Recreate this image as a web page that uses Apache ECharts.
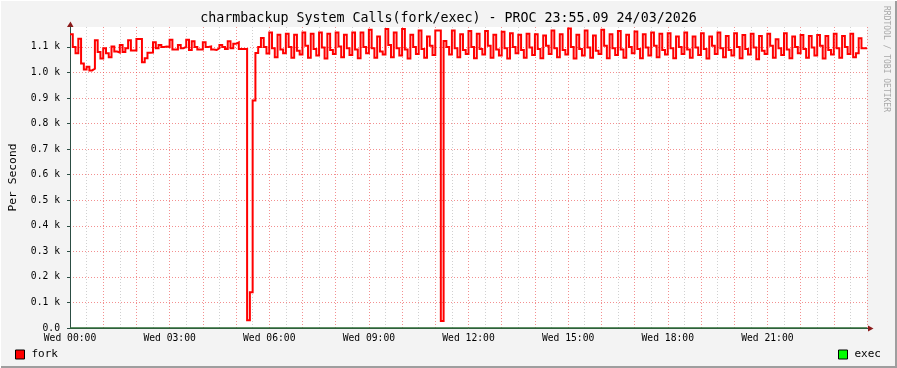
<!DOCTYPE html>
<html><head><meta charset="utf-8">
<script src="https://cdn.jsdelivr.net/npm/echarts@6/dist/echarts.min.js"></script>
<style>html,body{margin:0;padding:0;background:#f3f3f3}#c{width:897px;height:368px}</style>
</head><body><div id="c"></div>
<script>
const stepMinutes = 5;
const xTickLabels = ['Wed 00:00','Wed 03:00','Wed 06:00','Wed 09:00','Wed 12:00','Wed 15:00','Wed 18:00','Wed 21:00'];
const yTickLabels = ['0.0','0.1 k','0.2 k','0.3 k','0.4 k','0.5 k','0.6 k','0.7 k','0.8 k','0.9 k','1.0 k','1.1 k'];
const seriesNames = ['fork','exec'];
const titleText = 'charmbackup System Calls(fork/exec) - PROC 23:55.09 24/03/2026';
const yAxisTitle = 'Per Second';
const watermark = 'RRDTOOL / TOBI OETIKER';

// fork calls per second, one value per 5 minutes, one row per hour
const fork = [
  1150,1100,1075,1132,1035,1012,1022,1008,1015,1126,1080,1055,
  1095,1075,1060,1102,1082,1078,1108,1080,1095,1126,1086,1086,
  1131,1131,1040,1056,1077,1078,1118,1095,1108,1100,1102,1100,
  1128,1090,1090,1108,1095,1100,1128,1088,1122,1100,1090,1090,
  1118,1100,1102,1090,1088,1095,1108,1100,1092,1122,1095,1112,
  1118,1092,1092,1092,30,140,890,1076,1100,1135,1100,1074,
  1156,1095,1060,1148,1090,1075,1152,1100,1058,1148,1085,1070,
  1156,1105,1058,1152,1092,1066,1156,1098,1055,1152,1088,1072,
  1156,1102,1060,1148,1095,1068,1156,1090,1056,1156,1100,1075,
  1167,1095,1058,1141,1082,1070,1170,1108,1060,1156,1095,1066,
  1170,1090,1055,1148,1100,1072,1164,1092,1058,1141,1105,1068,
  1164,1164,27,1123,1100,1070,1164,1095,1060,1150,1088,1072,
  1162,1100,1056,1152,1092,1070,1162,1105,1058,1148,1090,1066,
  1159,1095,1055,1154,1100,1075,1148,1088,1058,1152,1098,1068,
  1150,1092,1056,1145,1105,1072,1164,1095,1060,1150,1088,1070,
  1172,1100,1055,1148,1092,1066,1164,1098,1058,1145,1085,1072,
  1167,1105,1056,1150,1095,1068,1162,1090,1058,1148,1100,1075,
  1160,1092,1056,1150,1098,1066,1156,1105,1060,1152,1088,1070,
  1154,1095,1056,1141,1100,1072,1156,1090,1058,1141,1098,1068,
  1154,1092,1055,1141,1105,1072,1156,1095,1060,1143,1088,1066,
  1154,1100,1056,1147,1092,1070,1152,1098,1052,1143,1085,1072,
  1152,1105,1058,1130,1095,1068,1154,1090,1056,1141,1100,1075,
  1147,1092,1058,1143,1098,1066,1147,1105,1055,1143,1088,1070,
  1152,1095,1058,1143,1100,1072,1152,1060,1075,1134,1095,1095
];
// exec calls per second (flat zero)
const exec = [
  0,0,0,0,0,0,0,0,0,0,0,0, 0,0,0,0,0,0,0,0,0,0,0,0,
  0,0,0,0,0,0,0,0,0,0,0,0, 0,0,0,0,0,0,0,0,0,0,0,0,
  0,0,0,0,0,0,0,0,0,0,0,0, 0,0,0,0,0,0,0,0,0,0,0,0,
  0,0,0,0,0,0,0,0,0,0,0,0, 0,0,0,0,0,0,0,0,0,0,0,0,
  0,0,0,0,0,0,0,0,0,0,0,0, 0,0,0,0,0,0,0,0,0,0,0,0,
  0,0,0,0,0,0,0,0,0,0,0,0, 0,0,0,0,0,0,0,0,0,0,0,0,
  0,0,0,0,0,0,0,0,0,0,0,0, 0,0,0,0,0,0,0,0,0,0,0,0,
  0,0,0,0,0,0,0,0,0,0,0,0, 0,0,0,0,0,0,0,0,0,0,0,0,
  0,0,0,0,0,0,0,0,0,0,0,0, 0,0,0,0,0,0,0,0,0,0,0,0,
  0,0,0,0,0,0,0,0,0,0,0,0, 0,0,0,0,0,0,0,0,0,0,0,0,
  0,0,0,0,0,0,0,0,0,0,0,0, 0,0,0,0,0,0,0,0,0,0,0,0,
  0,0,0,0,0,0,0,0,0,0,0,0, 0,0,0,0,0,0,0,0,0,0,0,0
];

const X_MAX = fork.length * stepMinutes;
const Y_MAX = 1178;
const FONT = 'DejaVu Sans Mono';

function toSteps(arr) {
  const d = arr.map((v, i) => [i * stepMinutes, v]);
  d.push([arr.length * stepMinutes, arr[arr.length - 1]]);
  return d;
}

const chart = echarts.init(document.getElementById('c'), null, {renderer: 'canvas'});
const gridLineMajor = {color: 'rgba(235,70,70,0.6)', width: 1, type: [1, 2]};
const gridLineMinor = {color: 'rgba(150,150,150,0.45)', width: 1, type: [1, 2]};
const legendCommon = {
  top: 349, icon: 'rect', itemWidth: 9, itemHeight: 9, padding: 0, selectedMode: false,
  itemStyle: {borderColor: '#000', borderWidth: 1},
  textStyle: {fontFamily: FONT, fontSize: 11, color: '#000', padding: [0, 0, 0, 2]}
};

const option = {
  backgroundColor: '#f3f3f3',
  animation: false,
  title: {
    text: titleText, left: 'center', top: 12, padding: 0,
    textStyle: {fontFamily: FONT, fontSize: 13.3, fontWeight: 'normal', color: '#000'}
  },
  legend: [
    Object.assign({}, legendCommon, {left: 15, data: [{name: seriesNames[0], itemStyle: {color: '#ff0000'}}]}),
    Object.assign({}, legendCommon, {left: 838, data: [{name: seriesNames[1], itemStyle: {color: '#00ff00'}}]})
  ],
  grid: {left: 67, right: 30, top: 27, bottom: 40, show: true, backgroundColor: '#ffffff', borderWidth: 0},
  xAxis: {
    type: 'value', min: 0, max: X_MAX, interval: 60,
    axisLine: {show: true, onZero: false, lineStyle: {color: '#2c4d43', width: 1}},
    axisTick: {show: false},
    axisLabel: {
      formatter: v => (v % 180 === 0 ? (xTickLabels[v / 180] || '') : ''),
      fontFamily: FONT, fontSize: 9.7, color: '#000', margin: 5, showMaxLabel: false
    },
    splitLine: {show: true, showMinLine: false, lineStyle: gridLineMajor},
    minorTick: {show: false, splitNumber: 2},
    minorSplitLine: {show: true, lineStyle: gridLineMinor}
  },
  yAxis: {
    type: 'value', min: 0, max: Y_MAX, interval: 100,
    name: yAxisTitle, nameLocation: 'middle', nameRotate: 90, nameGap: 51,
    nameTextStyle: {fontFamily: FONT, fontSize: 11.3, color: '#000'},
    axisLine: {show: true, lineStyle: {color: '#2c4d43', width: 1}},
    axisTick: {show: true, length: 3, lineStyle: {color: '#2c4d43'}},
    axisLabel: {
      formatter: v => (v % 100 === 0 ? (yTickLabels[v / 100] || '') : ''),
      fontFamily: FONT, fontSize: 9.7, color: '#000', margin: 10, showMaxLabel: false
    },
    splitLine: {show: true, showMinLine: false, showMaxLine: false, lineStyle: gridLineMajor}
  },
  series: [
    {
      name: seriesNames[0], type: 'line', step: 'end', data: toSteps(fork),
      symbol: 'none', z: 3, itemStyle: {color: '#ff0000'},
      lineStyle: {color: '#ff0000', width: 2, join: 'miter'}
    },
    {
      name: seriesNames[1], type: 'line', step: 'end', data: toSteps(exec),
      symbol: 'none', z: 2, itemStyle: {color: '#00ff00'},
      lineStyle: {color: '#2e6e36', width: 1.5}
    }
  ]
};
chart.setOption(option);

const pX = chart.convertToPixel({gridIndex: 0}, [X_MAX, 0]);
const pY = chart.convertToPixel({gridIndex: 0}, [0, Y_MAX]);
const arrowColor = '#8b1a1a';
chart.setOption({
  graphic: [
    {type: 'rect', shape: {x: 0, y: 366, width: 897, height: 2}, style: {fill: '#9e9e9e'}, silent: true},
    {type: 'rect', shape: {x: 895, y: 0, width: 2, height: 368}, style: {fill: '#9e9e9e'}, silent: true},
    {type: 'rect', shape: {x: 0, y: 0, width: 897, height: 1}, style: {fill: '#ffffff'}, silent: true},
    {type: 'rect', shape: {x: 0, y: 0, width: 1, height: 368}, style: {fill: '#ffffff'}, silent: true},
    {type: 'line', shape: {x1: pX[0], y1: pX[1] + 0.5, x2: pX[0] + 2, y2: pX[1] + 0.5}, style: {stroke: '#2c4d43', lineWidth: 1}, silent: true},
    {type: 'polygon', shape: {points: [[pX[0] + 1, pX[1] - 2.5], [pX[0] + 6.5, pX[1] + 0.5], [pX[0] + 1, pX[1] + 3.5]]}, style: {fill: arrowColor}, silent: true},
    {type: 'polygon', shape: {points: [[pY[0] - 3, pY[1]], [pY[0] + 0.5, pY[1] - 5.5], [pY[0] + 3.5, pY[1]]]}, style: {fill: arrowColor}, silent: true},
    {
      type: 'text', x: 886.5, y: 59, rotation: -Math.PI / 2, silent: true,
      style: {text: watermark, fontFamily: FONT, fontSize: 8, fill: '#a8a8a8', align: 'center', verticalAlign: 'middle'}
    }
  ]
});
</script>
</body></html>
